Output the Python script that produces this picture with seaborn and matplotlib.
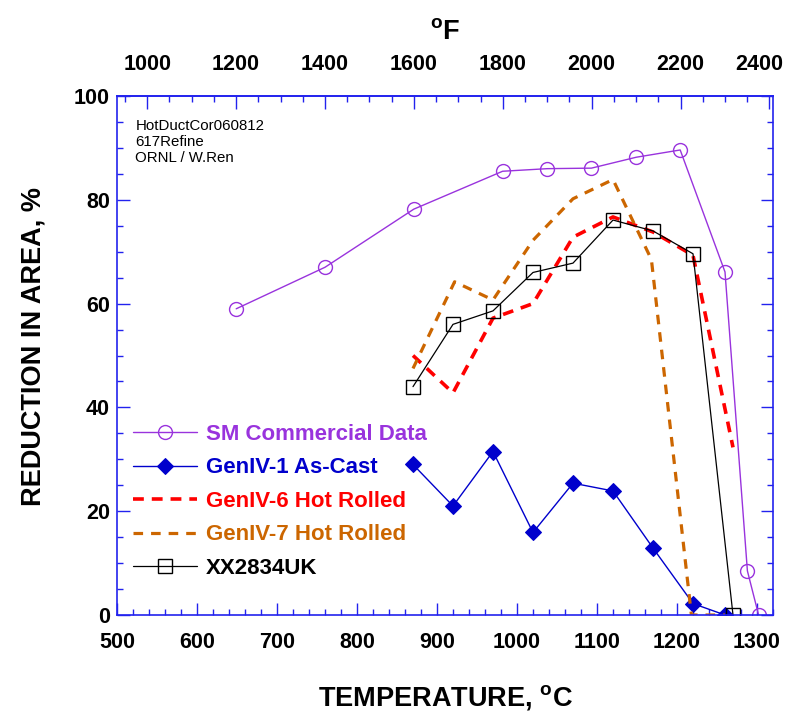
import numpy as np
import pandas as pd
import matplotlib
matplotlib.use("Agg")
import matplotlib.pyplot as plt
import matplotlib.transforms as mtransforms
import seaborn as sns
from matplotlib.ticker import MultipleLocator

# ---- data ----
sm_T = [649, 760, 871, 982, 1038, 1093, 1149, 1204, 1260, 1288, 1302]
sm_RA = [59.0, 67.0, 78.2, 85.5, 86.0, 86.1, 88.2, 89.6, 66.1, 8.5, 0.0]

g1_T = [870, 920, 970, 1020, 1070, 1120, 1170, 1220, 1260]
g1_RA = [29.0, 21.0, 31.5, 15.9, 25.4, 23.9, 12.9, 2.2, 0.0]

g6_T = [870, 920, 970, 1020, 1070, 1120, 1170, 1220, 1270]
g6_RA = [50.0, 42.8, 57.2, 60.0, 72.8, 76.7, 73.8, 69.3, 32.3]

g7_T = [870, 922, 970, 1020, 1070, 1120, 1168, 1218, 1260]
g7_RA = [47.5, 64.2, 60.7, 72.2, 80.2, 83.9, 68.5, 0.0, 0.0]

xx_T = [870, 920, 970, 1020, 1070, 1120, 1170, 1220, 1270]
xx_RA = [44.0, 56.0, 58.6, 66.0, 67.8, 76.1, 74.0, 69.6, 0.0]

notes = ["HotDuctCor060812", "617Refine", "ORNL / W.Ren"]

sns.set_theme(style="white")
plt.rcParams["font.family"] = ["Liberation Sans", "DejaVu Sans"]
plt.rcParams["mathtext.fontset"] = "custom"
plt.rcParams["mathtext.rm"] = "Liberation Sans"
plt.rcParams["mathtext.bf"] = "Liberation Sans:bold"
plt.rcParams["text.color"] = "black"
plt.rcParams["axes.labelcolor"] = "black"
plt.rcParams["xtick.labelcolor"] = "black"
plt.rcParams["ytick.labelcolor"] = "black"

fig = plt.figure(figsize=(7.94, 7.12), dpi=100)
ax = fig.add_axes([117/794, 1-615/712, (773-117)/794, (615-96)/712])

sns.lineplot(x=sm_T, y=sm_RA, ax=ax, color="#9933DD", lw=1, marker="o", ms=10,
             mfc="none", mec="#9933DD", mew=1, sort=False, estimator=None,
             label="SM Commercial Data")
sns.lineplot(x=g1_T, y=g1_RA, ax=ax, color="#0000CC", lw=1, marker="D", ms=8,
             mfc="#0000CC", mec="#0000CC", sort=False, estimator=None,
             label="GenIV-1 As-Cast")
sns.lineplot(x=g6_T, y=g6_RA, ax=ax, color="#FF0000", lw=2.6, sort=False,
             estimator=None, label="GenIV-6 Hot Rolled", dashes=False)
ax.lines[-1].set_dashes((3, 2.2))
sns.lineplot(x=g7_T, y=g7_RA, ax=ax, color="#CC6600", lw=2.3, sort=False,
             estimator=None, label="GenIV-7 Hot Rolled", dashes=False)
ax.lines[-1].set_dashes((3, 2.5))
sns.lineplot(x=xx_T, y=xx_RA, ax=ax, color="black", lw=0.9, marker="s", ms=10,
             mfc="none", mec="black", mew=1, sort=False, estimator=None,
             label="XX2834UK")

ax.set_xlim(500, 1320)
ax.set_ylim(0, 100)
ax.xaxis.set_major_locator(MultipleLocator(100))
ax.xaxis.set_minor_locator(MultipleLocator(20))
ax.yaxis.set_major_locator(MultipleLocator(20))
ax.yaxis.set_minor_locator(MultipleLocator(5))

for s in ax.spines.values():
    s.set_color("#2222EE")
    s.set_linewidth(1.2)

ax.tick_params(which="both", direction="in", color="#2222EE", width=1,
               top=False, right=True, bottom=True, left=True)
ax.tick_params(which="major", length=9)
ax.tick_params(which="minor", length=4.5)
ax.tick_params(axis="x", which="major", labelsize=15.5, pad=12)
ax.tick_params(axis="y", which="major", labelsize=15.5, pad=5)
for lab in ax.get_xticklabels() + ax.get_yticklabels():
    lab.set_fontweight("bold")

ax.set_xlabel(r"TEMPERATURE, $^{\mathbf{o}}$C", fontsize=19.5, fontweight="bold", labelpad=22)
ax.set_ylabel("REDUCTION IN AREA, %", fontsize=19.5, fontweight="bold", labelpad=20)
ax.yaxis.label.set_y(0.517)

def c2f(c):
    return np.asarray(c) * 1.8 + 32

def f2c(f):
    return (np.asarray(f) - 32) / 1.8

sec = ax.secondary_xaxis("top", functions=(c2f, f2c))
sec.xaxis.set_major_locator(MultipleLocator(200))
sec.xaxis.set_minor_locator(MultipleLocator(50))
sec.spines["top"].set_color("#2222EE")
sec.tick_params(which="both", direction="in", color="#2222EE", width=1)
sec.tick_params(which="major", length=9, labelsize=15.5, pad=15)
sec.tick_params(which="minor", length=4.5)
for lab in sec.get_xticklabels():
    lab.set_fontweight("bold")
sec.set_xlabel(r"$^{\mathbf{o}}$F", fontsize=19.5, fontweight="bold", labelpad=11)

ax.text(0.028, 0.956, "\n".join(notes), transform=ax.transAxes, fontsize=10.8,
        va="top", ha="left", linespacing=1.2)

leg = ax.legend(loc="upper left", bbox_to_anchor=(0.0, 0.398), frameon=False,
                handlelength=2.9, handletextpad=0.4, labelspacing=0.56,
                prop={"weight": "bold", "size": 16}, labelcolor="linecolor",
                borderaxespad=0.3)

fig.canvas.draw()
off = mtransforms.ScaledTranslation(-10/100, 0, fig.dpi_scale_trans)
for t in sec.xaxis.get_major_ticks():
    if t.label1.get_text() == "2400" or t.label2.get_text() == "2400":
        t.label1.set_transform(t.label1.get_transform() + off)
        t.label2.set_transform(t.label2.get_transform() + off)

fig.savefig("out.png", dpi=100)
